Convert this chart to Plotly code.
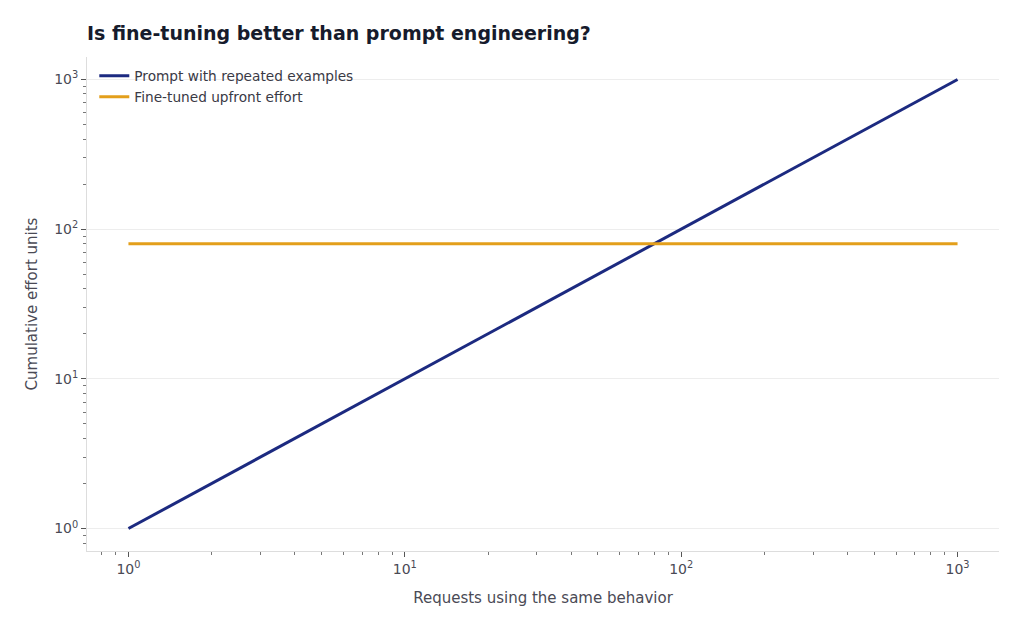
import plotly.graph_objects as go

requests = [1, 10, 100, 1000]
prompt_effort = [1, 10, 100, 1000]
finetune_effort = [80, 80, 80, 80]

major_vals = [1, 10, 100, 1000]
major_text = ["10<sup>0</sup>", "10<sup>1</sup>", "10<sup>2</sup>", "10<sup>3</sup>"]
minor_vals = [m * d for d in [0.1, 1, 10, 100, 1000] for m in range(2, 10)]

fig = go.Figure()
fig.add_trace(go.Scatter(x=requests, y=prompt_effort, mode="lines",
                         name="Prompt with repeated examples",
                         line=dict(color="#1c2a80", width=3)))
fig.add_trace(go.Scatter(x=requests, y=finetune_effort, mode="lines",
                         name="Fine-tuned upfront effort",
                         line=dict(color="#e39f1b", width=3)))

tickfont = dict(family="DejaVu Sans", size=14, color="#4a4a55")
fig.update_layout(
    width=1024, height=631,
    margin=dict(l=87, r=25, t=57, b=80),
    paper_bgcolor="white", plot_bgcolor="white",
    title=dict(text="<b>Is fine-tuning better than prompt engineering?</b>",
               x=87/1024, xanchor="left", y=1-33/631, yanchor="middle",
               font=dict(family="DejaVu Sans", size=19, color="#161b2c")),
    legend=dict(x=0.008, y=0.993, xanchor="left", yanchor="top",
                bgcolor="rgba(255,255,255,0)",
                font=dict(family="DejaVu Sans", size=13.7, color="#3a3a45")),
    xaxis=dict(type="log", range=[-0.15, 3.15], tickvals=major_vals, ticktext=major_text,
               ticks="outside", ticklen=5, tickcolor="#555", showgrid=False,
               showline=True, linecolor="#dddddd", linewidth=1, zeroline=False,
               tickfont=tickfont,
               minor=dict(tickvals=minor_vals, ticks="outside", ticklen=3, tickcolor="#777", showgrid=False),
               title=dict(text="Requests using the same behavior",
                          font=dict(family="DejaVu Sans", size=15, color="#4a4a55"), standoff=16)),
    yaxis=dict(type="log", range=[-0.15, 3.15], tickvals=major_vals, ticktext=major_text,
               ticks="outside", ticklen=5, tickcolor="#555", showgrid=True, gridcolor="#ededed",
               showline=True, linecolor="#dddddd", linewidth=1, zeroline=False,
               tickfont=tickfont,
               minor=dict(tickvals=minor_vals, ticks="outside", ticklen=3, tickcolor="#777", showgrid=False),
               title=dict(text="Cumulative effort units",
                          font=dict(family="DejaVu Sans", size=15, color="#4a4a55"), standoff=12)),
)
fig.write_html("out.html")
